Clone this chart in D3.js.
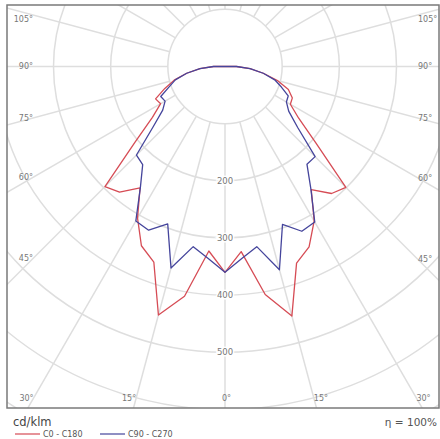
<!DOCTYPE html>
<html>
<head>
<meta charset="utf-8">
<script src="https://cdn.jsdelivr.net/npm/d3@7/dist/d3.min.js"></script>
<style>
  body { margin: 0; background: #fff; }
  text { font-family: "DejaVu Sans", Verdana, sans-serif; }
</style>
</head>
<body>
<div id="chart"></div>
<script>
var svgWidth = 440;
var svgHeight = 439;

// polar frame box and origin of the diagram
var frame = { left: 7, top: 5, right: 439, bottom: 408 };
var center = { x: 225, y: 66.5 };

// gamma angles (deg from nadir) and intensities in cd/klm
var gammas = [0, 5, 10, 15, 20, 25, 30, 35, 40, 45, 50, 55, 60, 65, 70, 75, 80, 85, 90];
var c180 = [360, 324, 408, 450, 364, 346, 306, 259, 287, 297, 205, 155, 130, 134, 112, 92, 68, 44, 20];
var c0   = [360, 325, 405, 452, 366, 348, 312, 263, 290, 299, 207, 157, 132, 130, 118, 95, 68, 44, 20];
var c270 = [360, 337, 320, 365, 293, 316, 312, 258, 224, 219, 164, 133, 121, 124, 104, 90, 68, 44, 20];
var c90  = [360, 337, 320, 368, 294, 318, 314, 262, 223, 223, 166, 136, 124, 122, 105, 90, 68, 44, 20];

var ringValues = [100, 200, 300, 400, 500, 600, 700];
var ringLabels = [200, 300, 400, 500];
var spokeAngles = d3.range(0, 181, 15);
var angleLabels = [0, 15, 30, 45, 60, 75, 90, 105];
var legendNames = ["C0 - C180", "C90 - C270"];
var colors = ["#d64c55", "#45459c"];

var svg = d3.select("#chart")
  .append("svg")
  .attr("width", svgWidth)
  .attr("height", svgHeight);

svg.append("defs").append("clipPath")
  .attr("id", "box")
  .append("rect")
  .attr("x", frame.left)
  .attr("y", frame.top)
  .attr("width", frame.right - frame.left)
  .attr("height", frame.bottom - frame.top);

var rScale = d3.scaleLinear().domain([0, 600]).range([0, 343]);

var plot = svg.append("g")
  .attr("clip-path", "url(#box)");

var g = plot.append("g")
  .attr("transform", `translate(${center.x}, ${center.y})`);

// rings
g.selectAll(".ring")
  .data(ringValues)
  .enter()
  .append("circle")
  .attr("r", d => rScale(d))
  .attr("fill", "none")
  .attr("stroke", "#dedede")
  .attr("stroke-width", 1.5);

// spokes, both sides, starting at the first ring
var spokes = [];
spokeAngles.forEach(function(a) {
  spokes.push(a);
  if (a > 0 && a < 180) spokes.push(-a);
});
g.selectAll(".spoke")
  .data(spokes)
  .enter()
  .append("line")
  .attr("x1", d => rScale(100) * Math.sin(d * Math.PI / 180))
  .attr("y1", d => rScale(100) * Math.cos(d * Math.PI / 180))
  .attr("x2", d => rScale(900) * Math.sin(d * Math.PI / 180))
  .attr("y2", d => rScale(900) * Math.cos(d * Math.PI / 180))
  .attr("stroke", "#dedede")
  .attr("stroke-width", 1.5);

// ring value labels on the 0 deg spoke
g.selectAll(".ringlabel")
  .data(ringLabels)
  .enter()
  .append("text")
  .attr("x", 0)
  .attr("y", d => rScale(d))
  .attr("dy", "0.35em")
  .attr("text-anchor", "middle")
  .style("font-size", "8.5px")
  .attr("fill", "#777")
  .attr("stroke", "#fff")
  .attr("stroke-width", 3)
  .attr("paint-order", "stroke")
  .text(d => d);

// curves: left half uses angle pi + gamma, right half pi - gamma
function halfPoints(vals, side) {
  return gammas.map(function(gm, i) {
    return { a: Math.PI + side * gm * Math.PI / 180, r: vals[i] };
  });
}
var radial = d3.lineRadial()
  .angle(d => d.a)
  .radius(d => rScale(d.r))
  .curve(d3.curveLinearClosed);

var curves = [
  halfPoints(c180, 1).reverse().concat(halfPoints(c0, -1)),
  halfPoints(c270, 1).reverse().concat(halfPoints(c90, -1))
];

g.selectAll(".curve")
  .data(curves)
  .enter()
  .append("path")
  .attr("d", d => radial(d))
  .attr("fill", "none")
  .attr("stroke", (d, i) => colors[i])
  .attr("stroke-width", 1.3)
  .attr("stroke-linejoin", "round");

// frame
svg.append("rect")
  .attr("x", frame.left)
  .attr("y", frame.top)
  .attr("width", frame.right - frame.left)
  .attr("height", frame.bottom - frame.top)
  .attr("fill", "none")
  .attr("stroke", "#7a7a7a")
  .attr("stroke-width", 1.5);

// angle labels along the frame
var labelInset = { left: 33, right: 418, top: 19, bottom: 398 };
angleLabels.forEach(function(a) {
  [-1, 1].forEach(function(side) {
    if (a === 0 && side === -1) return;
    var t = a * Math.PI / 180;
    var x, y, anchor;
    if (a >= 45) {
      x = side < 0 ? labelInset.left : labelInset.right;
      y = center.y + Math.abs(x - center.x) / Math.tan(t);
      y = Math.max(labelInset.top, Math.min(labelInset.bottom, y));
      anchor = side < 0 ? "end" : "start";
    } else {
      y = labelInset.bottom;
      x = center.x + side * (y - center.y) * Math.tan(t);
      anchor = a === 0 ? "start" : (side < 0 ? "end" : "start");
      if (a === 0) x = center.x - 3;
    }
    svg.append("text")
      .attr("x", x)
      .attr("y", y)
      .attr("dy", "0.35em")
      .attr("text-anchor", anchor)
      .style("font-size", "8px")
      .attr("fill", "#777")
      .text(a + "°");
  });
});

// unit and efficiency
svg.append("text")
  .attr("x", 13)
  .attr("y", 426)
  .style("font-size", "11.5px")
  .attr("fill", "#444")
  .text("cd/klm");

svg.append("text")
  .attr("x", 437)
  .attr("y", 426)
  .attr("text-anchor", "end")
  .style("font-size", "10.5px")
  .attr("fill", "#555")
  .text("η = 100%");

// legend
var legend = svg.selectAll(".legend")
  .data(legendNames)
  .enter()
  .append("g")
  .attr("transform", (d, i) => `translate(${15 + i * 85}, 434)`);

legend.append("line")
  .attr("x1", 0)
  .attr("x2", 25)
  .attr("stroke", (d, i) => colors[i])
  .attr("stroke-width", 1.2);

legend.append("text")
  .attr("x", 28)
  .attr("dy", "0.35em")
  .style("font-size", "8px")
  .attr("fill", "#555")
  .text(d => d);
</script>
</body>
</html>
